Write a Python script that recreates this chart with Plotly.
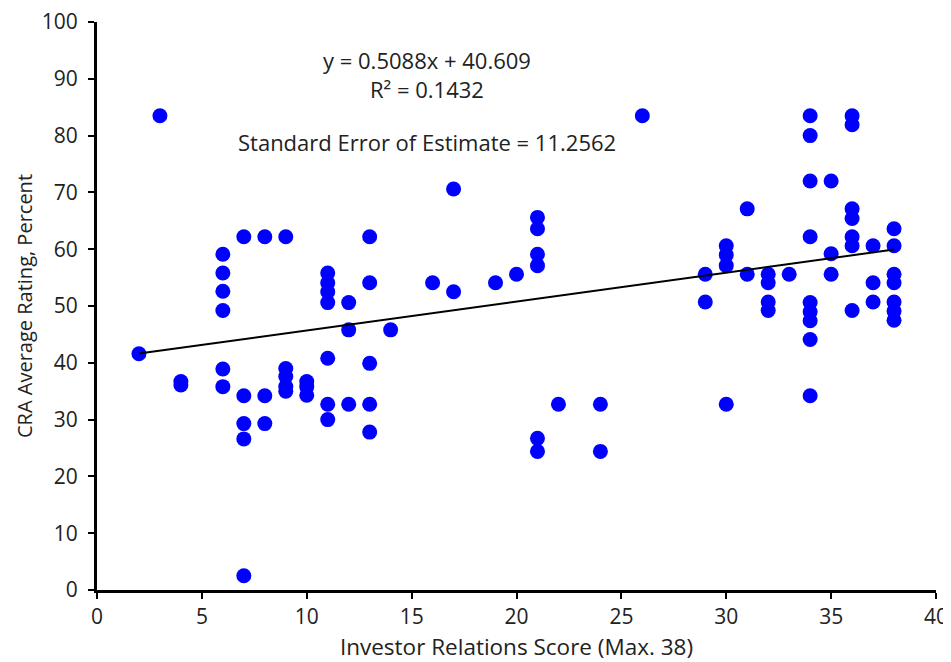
import plotly.graph_objects as go

# Investor Relations Score (x) and CRA Average Rating (y)
ir_score = [2, 3, 4, 4,
            6, 6, 6, 6, 6, 6,
            7, 7, 7, 7, 7,
            8, 8, 8,
            9, 9, 9, 9, 9,
            10, 10, 10,
            11, 11, 11, 11, 11, 11, 11,
            12, 12, 12,
            13, 13, 13, 13, 13,
            14, 16, 17, 17, 19, 20,
            21, 21, 21, 21, 21, 21,
            22, 24, 24, 26,
            29, 29,
            30, 30, 30, 30,
            31, 31,
            32, 32, 32, 32,
            33,
            34, 34, 34, 34, 34, 34, 34, 34, 34,
            35, 35, 35,
            36, 36, 36, 36, 36, 36, 36,
            37, 37, 37,
            38, 38, 38, 38, 38, 38, 38]
cra_rating = [41.6, 83.5, 36.7, 36.1,
              59.1, 55.8, 52.6, 49.2, 38.9, 35.8,
              62.2, 34.2, 29.3, 26.6, 2.5,
              62.2, 34.2, 29.3,
              62.2, 39.0, 37.6, 35.8, 35.0,
              36.7, 35.8, 34.3,
              55.8, 54.1, 52.5, 50.6, 40.8, 32.7, 30.0,
              50.6, 45.8, 32.7,
              62.2, 54.1, 39.9, 32.7, 27.8,
              45.8, 54.1, 70.6, 52.5, 54.1, 55.6,
              65.6, 63.6, 59.1, 57.1, 26.7, 24.4,
              32.7, 32.7, 24.4, 83.5,
              55.6, 50.7,
              60.6, 59.0, 57.1, 32.7,
              67.1, 55.6,
              55.6, 54.1, 50.7, 49.2,
              55.6,
              83.5, 80.0, 72.0, 62.2, 50.6, 49.0, 47.4, 44.1, 34.2,
              72.0, 59.2, 55.6,
              83.5, 81.9, 67.1, 65.4, 62.2, 60.6, 49.2,
              60.6, 54.1, 50.7,
              63.6, 60.6, 55.6, 54.1, 50.7, 49.1, 47.5]

# Trendline coefficients as reported on the chart
slope = 0.5088
intercept = 40.609
r_squared = 0.1432
std_err = 11.2562

x_tick_vals = [0, 5, 10, 15, 20, 25, 30, 35, 40]
y_tick_vals = [0, 10, 20, 30, 40, 50, 60, 70, 80, 90, 100]

x_min, x_max = min(ir_score), max(ir_score)
trend_x = [x_min, x_max]
trend_y = [slope * v + intercept for v in trend_x]

FONT = "Open Sans"
TXT = "#222222"

fig = go.Figure()
fig.add_trace(go.Scatter(
    x=ir_score, y=cra_rating, mode="markers",
    marker=dict(color="#0000FF", size=15, line=dict(width=0)),
    showlegend=False, hoverinfo="x+y"))
fig.add_trace(go.Scatter(
    x=trend_x, y=trend_y, mode="lines",
    line=dict(color="black", width=2),
    showlegend=False, hoverinfo="skip"))

ann_font = dict(family=FONT, size=22, color=TXT)
fig.add_annotation(x=0.393, y=0.907, xref="paper", yref="paper",
                   text=f"y = {slope}x + {intercept}<br>R² = {r_squared}",
                   showarrow=False, align="center",
                   font=ann_font, xanchor="center", yanchor="middle")
fig.add_annotation(x=0.393, y=0.789, xref="paper", yref="paper",
                   text=f"Standard Error of Estimate = {std_err}", showarrow=False,
                   font=ann_font, xanchor="center", yanchor="middle")

# the page body adds an 8px margin, so the figure is 8px smaller on each side
fig.update_layout(
    width=943, height=654,
    margin=dict(l=89, r=15, t=14, b=72),
    paper_bgcolor="white", plot_bgcolor="white",
    font=dict(family=FONT, size=20, color=TXT),
    xaxis=dict(range=[0, 40], tickvals=x_tick_vals, showgrid=False, zeroline=False,
               automargin=False, ticklabeloverflow="allow",
               showline=True, linecolor="black", linewidth=3,
               ticks="outside", ticklen=6, tickwidth=2, tickcolor="black",
               tickfont=dict(family=FONT, size=21, color=TXT),
               title=dict(text="Investor Relations Score (Max. 38)", standoff=12,
                          font=dict(family=FONT, size=22.5, color=TXT))),
    yaxis=dict(range=[0, 100], tickvals=y_tick_vals, showgrid=False, zeroline=False,
               automargin=False, ticklabelstandoff=6, ticklabeloverflow="allow",
               showline=True, linecolor="black", linewidth=3,
               ticks="outside", ticklen=6, tickwidth=2, tickcolor="black",
               tickfont=dict(family=FONT, size=21, color=TXT),
               title=dict(text="CRA Average Rating, Percent", standoff=4,
                          font=dict(family=FONT, size=20, color=TXT))),
)

fig.write_html("out.html")
